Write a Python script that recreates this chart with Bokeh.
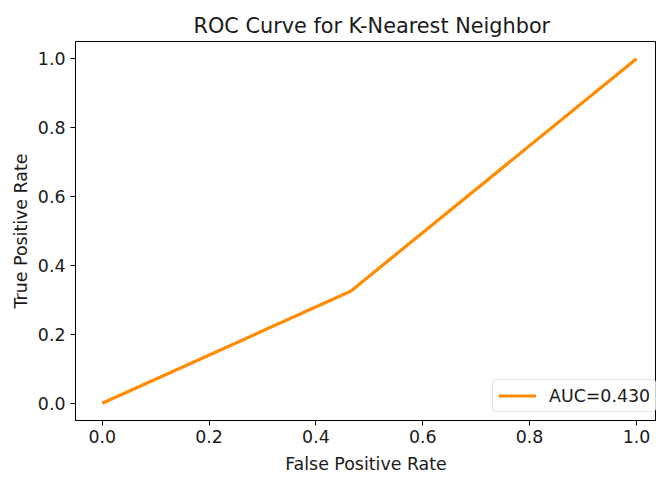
from bokeh.plotting import figure
from bokeh.models import Range1d, FixedTicker, PrintfTickFormatter, Legend, LegendItem
from bokeh.embed import file_html
from bokeh.resources import INLINE

fpr = [0.0, 0.465, 1.0]
tpr = [0.0, 0.325, 1.0]
auc_label = "AUC=0.430"
ticks = [0.0, 0.2, 0.4, 0.6, 0.8, 1.0]

FONT = "DejaVu Sans"
TXT = "#1a1a1a"

p = figure(width=656, height=477, output_backend="svg", toolbar_location=None,
           x_range=Range1d(-0.05, 1.0375), y_range=Range1d(-0.05, 1.05),
           min_border_left=75, min_border_right=0, min_border_top=41, min_border_bottom=57)
p.background_fill_color = "white"
p.border_fill_color = "white"
p.outline_line_color = "black"
p.outline_line_width = 1
p.grid.visible = False

p.title.text = "ROC Curve for K-Nearest Neighbor"
p.title.text_font = FONT
p.title.text_font_size = "20.8px"
p.title.text_font_style = "normal"
p.title.text_color = TXT
p.title.align = "left"
p.title.offset = 118
p.title.standoff = 8

for ax in (p.xaxis[0], p.yaxis[0]):
    ax.ticker = FixedTicker(ticks=ticks)
    ax.formatter = PrintfTickFormatter(format="%.1f")
    ax.minor_tick_line_color = None
    ax.major_tick_in = 0
    ax.major_tick_out = 5
    ax.major_label_text_font = FONT
    ax.major_label_text_font_size = "17.4px"
    ax.major_label_text_color = TXT
    ax.axis_label_text_font = FONT
    ax.axis_label_text_font_size = "17.4px"
    ax.axis_label_text_font_style = "normal"
    ax.axis_label_text_color = TXT
    ax.axis_line_color = "black"
    ax.major_tick_line_color = "black"

p.xaxis[0].axis_label = "False Positive Rate"
p.yaxis[0].axis_label = "True Positive Rate"
p.xaxis[0].major_label_standoff = 4
p.yaxis[0].major_label_standoff = 5
p.xaxis[0].axis_label_standoff = 8
p.yaxis[0].axis_label_standoff = 4

r = p.line(fpr, tpr, line_color="#FF8C00", line_width=3.2)

legend = Legend(items=[LegendItem(label=auc_label, renderers=[r])], location=(417, 8))
legend.label_text_font = FONT
legend.label_text_font_size = "17.4px"
legend.label_text_color = TXT
legend.glyph_width = 38
legend.glyph_height = 21
legend.label_height = 21
legend.label_standoff = 13
legend.padding = 5
legend.margin = 0
legend.spacing = 0
legend.border_line_color = "#cccccc"
legend.border_line_width = 1
legend.background_fill_alpha = 0.8
if "border_radius" in Legend.properties():
    legend.border_radius = 4
p.add_layout(legend)

open("out.html", "w").write(file_html(p, INLINE))
